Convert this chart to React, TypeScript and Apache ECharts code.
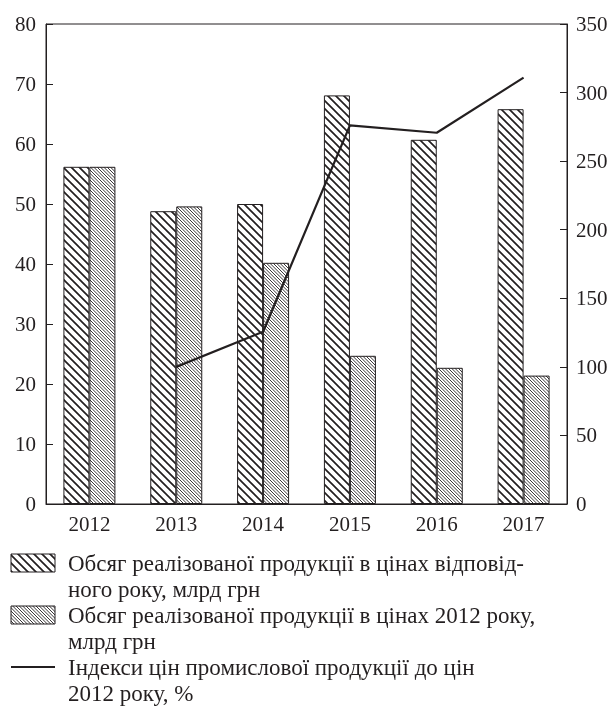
import React, { useEffect, useRef } from "react";
import * as echarts from "echarts";

const years = ["2012", "2013", "2014", "2015", "2016", "2017"];
const currentPrices = [56.2, 48.8, 50.0, 68.1, 60.7, 65.8];
const constPrices2012 = [56.2, 49.6, 40.2, 24.7, 22.7, 21.4];
const priceIndex = [null, 100, 125.6, 276.1, 270.7, 310.9];

const seriesNames = [
  "Обсяг реалізованої продукції в цінах відповідного року, млрд грн",
  "Обсяг реалізованої продукції в цінах 2012 року, млрд грн",
  "Індекси цін промислової продукції до цін 2012 року, %",
];
const legendLines = [
  "Обсяг реалізованої продукції в цінах відповід-\nного року, млрд грн",
  "Обсяг реалізованої продукції в цінах 2012 року,\nмлрд грн",
  "Індекси цін промислової продукції до цін\n2012 року, %",
];

const FONT = "'Liberation Serif', 'Times New Roman', serif";
const INK = "#231f20";

function hatch(tile: number, count: number, lw: number) {
  const c = document.createElement("canvas");
  c.width = tile;
  c.height = tile;
  const ctx = c.getContext("2d")!;
  ctx.fillStyle = "#fff";
  ctx.fillRect(0, 0, tile, tile);
  ctx.strokeStyle = INK;
  ctx.lineWidth = lw;
  const step = tile / count;
  ctx.beginPath();
  for (let k = -tile; k <= tile; k += step) {
    ctx.moveTo(k - 1, -1);
    ctx.lineTo(k + tile + 1, tile + 1);
  }
  ctx.stroke();
  return c;
}

export default function App() {
  const ref = useRef<HTMLDivElement>(null);
  useEffect(() => {
    const chart = echarts.init(ref.current!, null, { renderer: "svg" });
    const p1 = { image: hatch(16, 2, 1.7), repeat: "repeat" } as any;
    const p2 = { image: hatch(10, 3, 0.9), repeat: "repeat" } as any;
    const axisLabel = { color: INK, fontFamily: FONT, fontSize: 21 };
    chart.setOption({
      animation: false,
      grid: {
        left: 46,
        right: 45,
        top: 24,
        bottom: 204,
        show: true,
        borderColor: INK,
        borderWidth: 1,
      },
      xAxis: {
        type: "category",
        data: years,
        axisLine: { lineStyle: { color: INK, width: 1 } },
        axisTick: { inside: true, length: 7, lineStyle: { color: INK } },
        axisLabel: { ...axisLabel, margin: 9 },
      },
      yAxis: [
        {
          type: "value",
          min: 0,
          max: 80,
          interval: 10,
          axisLine: { show: true, lineStyle: { color: INK } },
          axisTick: { show: true, inside: true, length: 7, lineStyle: { color: INK } },
          axisLabel: { ...axisLabel, margin: 10 },
          splitLine: { show: false },
        },
        {
          type: "value",
          min: 0,
          max: 350,
          interval: 50,
          position: "right",
          axisLine: { show: true, lineStyle: { color: INK } },
          axisTick: { show: true, inside: true, length: 7, lineStyle: { color: INK } },
          axisLabel: { ...axisLabel, margin: 9 },
          splitLine: { show: false },
        },
      ],
      series: [
        {
          name: seriesNames[0],
          type: "bar",
          data: currentPrices,
          barWidth: 26,
          barGap: "0%",
          itemStyle: { color: p1, borderColor: INK, borderWidth: 1 },
        },
        {
          name: seriesNames[1],
          type: "bar",
          data: constPrices2012,
          barWidth: 26,
          barGap: "0%",
          itemStyle: { color: p2, borderColor: INK, borderWidth: 1 },
        },
        {
          name: seriesNames[2],
          type: "line",
          yAxisIndex: 1,
          data: priceIndex,
          showSymbol: false,
          symbol: "none",
          lineStyle: { color: INK, width: 2.2 },
          z: 5,
        },
      ],
      graphic: [
        {
          type: "rect",
          shape: { x: 11, y: 554, width: 44, height: 18 },
          style: { fill: p1, stroke: INK, lineWidth: 1 },
        },
        {
          type: "rect",
          shape: { x: 11, y: 606, width: 44, height: 18 },
          style: { fill: p2, stroke: INK, lineWidth: 1 },
        },
        {
          type: "line",
          shape: { x1: 11, y1: 667, x2: 55, y2: 667 },
          style: { stroke: INK, lineWidth: 2.2 },
        },
        ...legendLines.map((t, i) => ({
          type: "text",
          left: 68,
          top: 550 + i * 52,
          style: {
            text: t,
            font: `23px ${FONT}`,
            lineHeight: 26,
            fill: INK,
          },
        })),
      ],
    });
    return () => chart.dispose();
  }, []);
  return (
    <div
      ref={ref}
      style={{ position: "fixed", left: 0, top: 0, width: 612, height: 708 }}
    />
  );
}
